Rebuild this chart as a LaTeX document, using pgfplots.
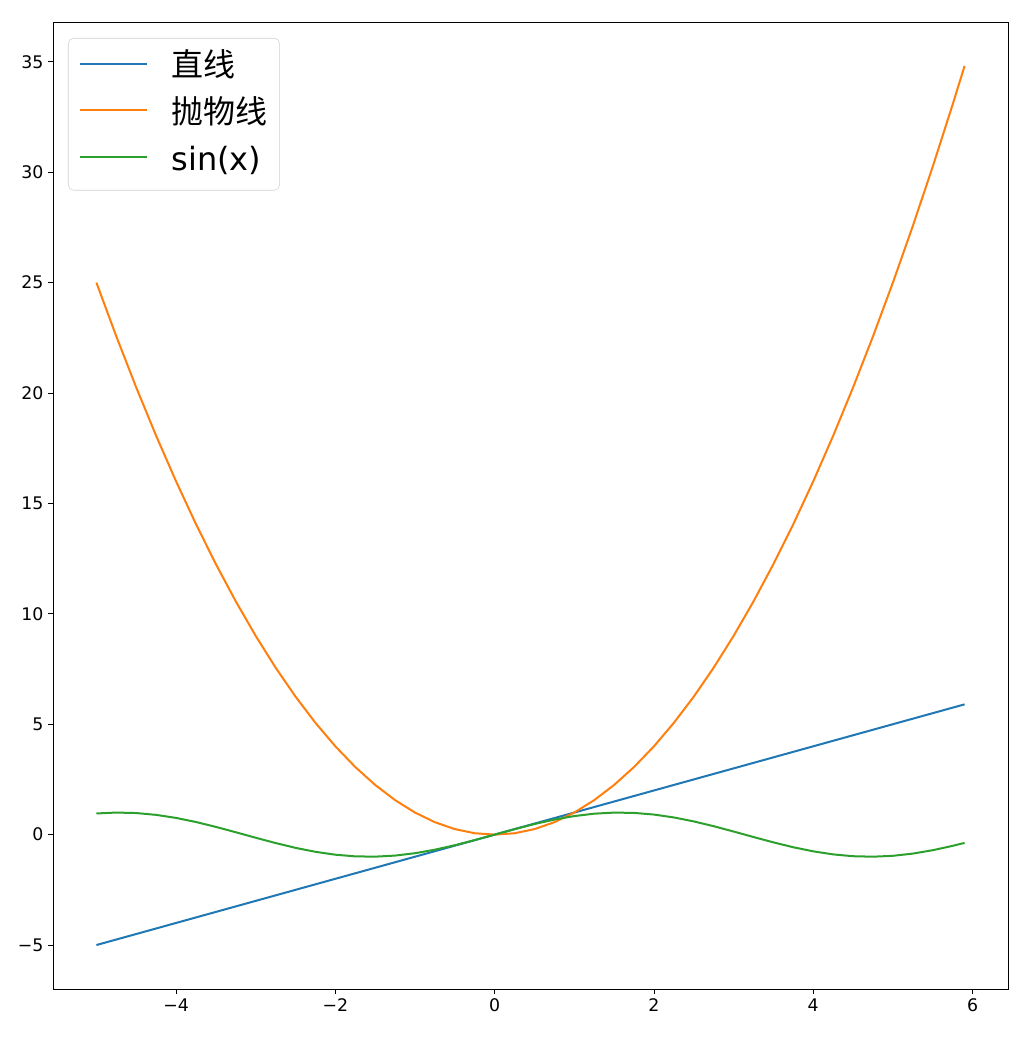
\documentclass[border=0pt]{standalone}
\usepackage{fontspec}
\setmainfont{DejaVu Sans}
\newfontfamily\cjk{Noto Sans CJK SC}
\usepackage{pgfplots}
\pgfplotsset{compat=1.18}
\definecolor{mplblue}{HTML}{1F77B4}
\definecolor{mplorange}{HTML}{FF7F0E}
\definecolor{mplgreen}{HTML}{2CA02C}

\begin{document}
\begin{tikzpicture}
\begin{axis}[
    name=ax,
    scale only axis,
    width=716.25pt, height=725.25pt,
    xmin=-5.545, xmax=6.445,
    ymin=-6.9905, ymax=36.8005,
    xtick={-4,-2,0,2,4,6},
    xticklabels={−4,−2,0,2,4,6},
    ytick={-5,0,5,10,15,20,25,30,35},
    yticklabels={−5,0,5,10,15,20,25,30,35},
    xtick pos=bottom, ytick pos=left, tick align=outside,
    major tick length=3.7pt,
    tick style={black, line width=0.6pt},
    axis line style={line width=0.6pt},
    ticklabel style={font=\fontsize{13}{15}\selectfont},
    legend cell align=left,
    legend image code/.code={\draw[#1] (0pt,0.3em) -- (50pt,0.3em);},
    legend style={
        at={(0,1)}, anchor=north west, xshift=11.25pt, yshift=-12pt,
        draw=black!18, rounded corners=4pt,
        inner xsep=8pt, inner ysep=10pt,
        font=\fontsize{24}{28}\selectfont,
        nodes={inner sep=1pt, text height=18pt, text depth=4pt},
        row sep=11pt,
        /tikz/every odd column/.append style={column sep=17pt},
    },
    every axis plot/.append style={line width=1.5pt},
]

% y = x
\addplot[mplblue] coordinates {(-5,-5) (5.9,5.9)};

% y = x^2
\addplot[mplorange] coordinates {
    (-5,25) (-4.75,22.5625) (-4.5,20.25) (-4.25,18.0625) (-4,16)
    (-3.75,14.0625) (-3.5,12.25) (-3.25,10.5625) (-3,9) (-2.75,7.5625)
    (-2.5,6.25) (-2.25,5.0625) (-2,4) (-1.75,3.0625) (-1.5,2.25)
    (-1.25,1.5625) (-1,1) (-0.75,0.5625) (-0.5,0.25) (-0.25,0.0625)
    (0,0) (0.25,0.0625) (0.5,0.25) (0.75,0.5625) (1,1)
    (1.25,1.5625) (1.5,2.25) (1.75,3.0625) (2,4) (2.25,5.0625)
    (2.5,6.25) (2.75,7.5625) (3,9) (3.25,10.5625) (3.5,12.25)
    (3.75,14.0625) (4,16) (4.25,18.0625) (4.5,20.25) (4.75,22.5625)
    (5,25) (5.25,27.5625) (5.5,30.25) (5.75,33.0625) (5.9,34.81)
};

% y = sin(x)
\addplot[mplgreen] coordinates {
    (-5,0.9589) (-4.75,0.9993) (-4.5,0.9775) (-4.25,0.8950) (-4,0.7568)
    (-3.75,0.5716) (-3.5,0.3508) (-3.25,0.1082) (-3,-0.1411) (-2.75,-0.3817)
    (-2.5,-0.5985) (-2.25,-0.7781) (-2,-0.9093) (-1.75,-0.9840) (-1.5,-0.9975)
    (-1.25,-0.9490) (-1,-0.8415) (-0.75,-0.6816) (-0.5,-0.4794) (-0.25,-0.2474)
    (0,0) (0.25,0.2474) (0.5,0.4794) (0.75,0.6816) (1,0.8415)
    (1.25,0.9490) (1.5,0.9975) (1.75,0.9840) (2,0.9093) (2.25,0.7781)
    (2.5,0.5985) (2.75,0.3817) (3,0.1411) (3.25,-0.1082) (3.5,-0.3508)
    (3.75,-0.5716) (4,-0.7568) (4.25,-0.8950) (4.5,-0.9775) (4.75,-0.9993)
    (5,-0.9589) (5.25,-0.8589) (5.5,-0.7055) (5.75,-0.5082) (5.9,-0.3739)
};

\legend{{\cjk 直线}, {\cjk 抛物线}, sin(x)}
\end{axis}
\path ([xshift=-39.75pt,yshift=-36.75pt]ax.south west)
    rectangle ([xshift=12pt,yshift=16.5pt]ax.north east);
\end{tikzpicture}
\end{document}
